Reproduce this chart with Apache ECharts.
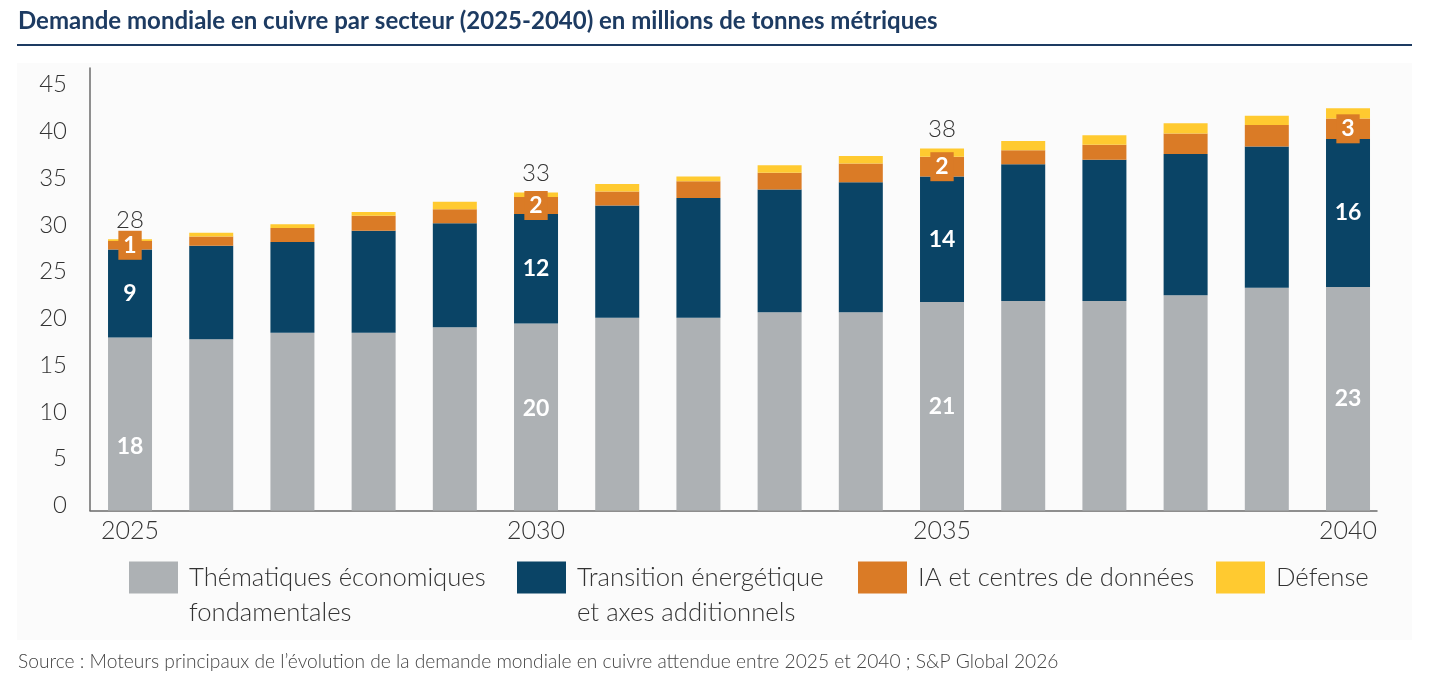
<!DOCTYPE html>
<html lang="fr">
<head>
<meta charset="utf-8">
<title>Demande mondiale en cuivre par secteur</title>
<script src="https://cdn.jsdelivr.net/npm/echarts@6/dist/echarts.min.js"></script>
<style>
  html, body { margin: 0; padding: 0; background: #fff; }
  #chart { width: 1435px; height: 696px; }
</style>
</head>
<body>
<div id="chart"></div>
<script>
// values, millions of tonnes
const years = [2025, 2026, 2027, 2028, 2029, 2030, 2031, 2032, 2033, 2034, 2035, 2036, 2037, 2038, 2039, 2040];
const axisYears = [2025, 2030, 2035, 2040];

const economic = [18.5, 18.3, 19.0, 19.0, 19.6, 20.0, 20.6, 20.6, 21.2, 21.2, 22.3, 22.4, 22.4, 23.0, 23.8, 23.9];
const transition = [9.4, 10.0, 9.7, 10.9, 11.1, 11.7, 12.0, 12.8, 13.1, 13.9, 13.4, 14.6, 15.1, 15.1, 15.1, 15.8];
const aiData = [0.9, 1.0, 1.5, 1.6, 1.5, 1.8, 1.5, 1.8, 1.8, 2.0, 2.1, 1.5, 1.6, 2.2, 2.3, 2.2];
const defense = [0.2, 0.4, 0.4, 0.4, 0.8, 0.5, 0.8, 0.5, 0.8, 0.8, 0.9, 1.0, 1.0, 1.1, 1.0, 1.1];

// numbers printed on the bars
const economicLabels = [18, null, null, null, null, 20, null, null, null, null, 21, null, null, null, null, 23];
const transitionLabels = [9, null, null, null, null, 12, null, null, null, null, 14, null, null, null, null, 16];
const aiLabels = [1, null, null, null, null, 2, null, null, null, null, 2, null, null, null, null, 3];
const totalLabels = [28, null, null, null, null, 33, null, null, null, null, 38, null, null, null, null, null];

const seriesNames = ['Thématiques économiques fondamentales', 'Transition énergétique et axes additionnels', 'IA et centres de données', 'Défense'];
const legendLabels = ['Thématiques économiques\nfondamentales', 'Transition énergétique\net axes additionnels', 'IA et centres de données', 'Défense'];

const FONT = 'Lato, "Source Sans Pro", "Noto Sans", sans-serif';
const colors = ['#adb1b4', '#0a4466', '#da7b26', '#ffca30'];
const textDark = '#333333';

// small vertical nudges of the grey labels, as in the source layout
const economicLabelShift = { 0: 23, 5: -8 };

// value first, year second: the stack runs along the value dimension
function barData(values, labels, extra) {
  return years.map((year, i) => {
    const item = { value: [values[i], year] };
    if (labels && labels[i] !== null) {
      item.label = Object.assign({ show: true, formatter: String(labels[i]) }, extra ? extra(i) : {});
    }
    return item;
  });
}

const whiteLabel = {
  show: false,
  position: 'inside',
  color: '#fff',
  fontFamily: FONT,
  fontSize: 23,
  fontWeight: 'bold',
};

const legendPos = [129, 517, 858, 1216];
const twoLineIcon = 'path://M0,0H49V32H0Z M0,67';

function barSeries(i, values, labels, label, extra) {
  return {
    name: seriesNames[i],
    type: 'bar',
    stack: 'total',
    barWidth: 44,
    encode: { x: 1, y: 0 },
    itemStyle: { color: colors[i] },
    label: label,
    data: barData(values, labels, extra),
  };
}

const chart = echarts.init(document.getElementById('chart'), null, { renderer: 'canvas' });

chart.setOption({
  animation: false,
  backgroundColor: '#ffffff',
  textStyle: { fontFamily: FONT },
  title: [
    {
      text: 'Demande mondiale en cuivre par secteur (2025-2040) en millions de tonnes métriques',
      left: 18,
      top: 9,
      padding: 0,
      textStyle: { fontFamily: FONT, fontSize: 24, fontWeight: 'bold', color: '#1d3b62' },
    },
    {
      text: 'Source : Moteurs principaux de l’évolution de la demande mondiale en cuivre attendue entre 2025 et 2040 ; S&P Global 2026',
      left: 18,
      top: 652,
      padding: 0,
      textStyle: { fontFamily: FONT, fontSize: 19.2, fontWeight: 300, color: '#444' },
    },
  ],
  graphic: [
    { type: 'rect', left: 17, top: 63, shape: { width: 1395, height: 577 }, style: { fill: '#fbfbfb' }, z: -10 },
    { type: 'rect', left: 17, top: 44, shape: { width: 1395, height: 2 }, style: { fill: '#1d3b62' } },
  ],
  legend: legendLabels.map((label, i) => ({
    data: [seriesNames[i]],
    left: legendPos[i],
    top: 560,
    padding: 0,
    selectedMode: false,
    itemWidth: 49,
    itemHeight: label.includes('\n') ? 67 : 32,
    icon: label.includes('\n') ? twoLineIcon : 'rect',
    formatter: () => label,
    textStyle: { fontFamily: FONT, fontSize: 25.7, fontWeight: 300, color: textDark, lineHeight: 35, padding: [0, 0, 0, 6] },
  })),
  grid: { left: 90, right: 58, top: 68, bottom: 185.5, containLabel: false },
  xAxis: {
    type: 'value',
    min: 2024.507,
    max: 2040.357,
    splitLine: { show: false },
    axisTick: { show: false },
    axisLine: { show: true, lineStyle: { color: '#6b6b6b', width: 1.5 } },
    axisLabel: {
      customValues: axisYears,
      formatter: (v) => String(v),
      margin: 8,
      fontFamily: FONT,
      fontSize: 25,
      fontWeight: 300,
      color: textDark,
    },
  },
  yAxis: {
    type: 'value',
    min: 0,
    max: 47.3,
    interval: 5,
    splitLine: { show: false },
    axisTick: { show: false },
    axisLine: { show: true, lineStyle: { color: '#6b6b6b', width: 1.5 } },
    axisLabel: {
      showMaxLabel: false,
      margin: 23,
      verticalAlign: 'bottom',
      lineHeight: 10,
      fontFamily: FONT,
      fontSize: 24,
      fontWeight: 300,
      color: textDark,
    },
  },
  series: [
    barSeries(0, economic, economicLabels, whiteLabel, (i) => ({ offset: [0, economicLabelShift[i] || 0] })),
    barSeries(1, transition, transitionLabels, whiteLabel),
    barSeries(2, aiData, aiLabels, Object.assign({}, whiteLabel, {
      backgroundColor: colors[2],
      padding: [4, 5, 3, 5],
      lineHeight: 22,
    })),
    barSeries(3, defense, totalLabels, {
      show: false,
      position: 'top',
      distance: 7,
      color: textDark,
      fontFamily: FONT,
      fontSize: 24,
      fontWeight: 300,
    }),
  ],
});
</script>
</body>
</html>
